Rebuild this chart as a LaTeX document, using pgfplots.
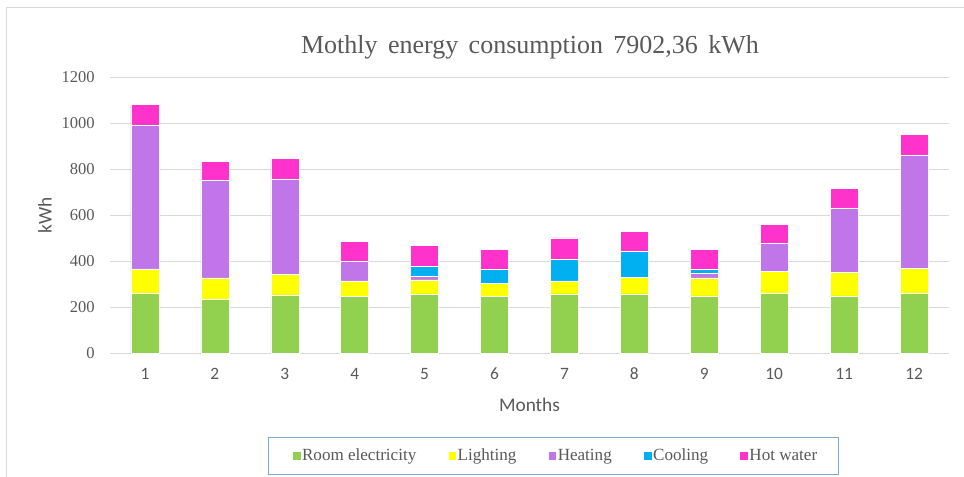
\documentclass[border=0pt]{standalone}
\usepackage{pgfplots}
\pgfplotsset{compat=1.18}
\usepackage{fontspec}
\setmainfont{Liberation Serif}
\newfontfamily\calibri{Carlito}
\newfontfamily\tnr{Liberation Serif}
\definecolor{cRoom}{RGB}{146,208,80}
\definecolor{cLight}{RGB}{255,255,0}
\definecolor{cHeat}{RGB}{192,117,232}
\definecolor{cCool}{RGB}{0,176,240}
\definecolor{cHot}{RGB}{255,51,204}
\definecolor{gridc}{RGB}{217,217,217}
\definecolor{txt}{RGB}{89,89,89}
\definecolor{legb}{RGB}{120,170,220}
\begin{document}
\begin{tikzpicture}
\useasboundingbox (0,0) rectangle (723pt,357.75pt);
\draw[gridc, line width=1.1pt] (4.9pt,0) -- (4.9pt,352.3pt) -- (723pt,352.3pt);
\begin{axis}[
  at={(82.5pt,92.78pt)}, anchor=south west,
  scale only axis, width=629.25pt, height=207pt,
  xmin=0.5, xmax=12.5, ymin=0, ymax=1200,
  ybar stacked, bar width=21pt,
  xtick={1,...,12}, ytick={0,200,...,1200},
  ymajorgrids, major grid style={gridc, line width=0.75pt},
  axis x line*=bottom, axis y line*=left,
  y axis line style={draw=none},
  x axis line style={gridc, line width=0.9pt},
  major tick length=0pt, tick style={draw=none},
  /pgf/number format/assume math mode=true,
  /pgf/number format/1000 sep={},
  xticklabel style={font=\calibri\fontsize{13}{13}\selectfont, text=txt, anchor=center, inner sep=0pt, yshift=-15.5pt},
  yticklabel={\tnr\fontsize{12.4}{12.4}\selectfont\pgfmathprintnumber{\tick}},
  yticklabel style={text=txt, anchor=east, inner sep=0pt, xshift=-11.25pt},
  xlabel={Months},
  xlabel style={font=\calibri\fontsize{14.5}{14.5}\selectfont, text=txt, at={(rel axis cs:0.5,-0.1874)}, anchor=center},
  ylabel={kWh},
  ylabel style={font=\calibri\fontsize{14.5}{14.5}\selectfont, text=txt, at={(rel axis cs:-0.0775,0.5)}, anchor=center},
  title={Mothly\hspace{0.4em}energy\hspace{0.4em}consumption\hspace{0.4em}7902,36\hspace{0.4em}kWh},
  title style={font=\tnr\fontsize{19.5}{21}\selectfont, text=txt, at={(rel axis cs:0.5006,1.0789)}, anchor=center},
  legend columns=5,
  legend style={at={(rel axis cs:0.5284,-0.3721)}, anchor=center, draw=legb, line width=0.75pt,
    font=\tnr\fontsize{12.8}{13}\selectfont, text=txt, inner xsep=15pt, inner ysep=6.5pt,
    nodes={inner xsep=1pt},
    /tikz/every even column/.append style={column sep=19.5pt}},
  legend cell align=left,
  legend image code/.code={\path (-3.5pt,0pt); \fill[#1, draw=none] (0pt,-2.9pt) rectangle (5.8pt,2.9pt);},
]
\addplot[fill=cRoom, draw=white, line width=0.4pt] coordinates {(1,259) (2,235) (3,254) (4,249) (5,258) (6,246) (7,258) (8,258) (9,250) (10,259) (11,250) (12,259)};
\addlegendentry{Room electricity}
\addplot[fill=cLight, draw=white, line width=0.4pt] coordinates {(1,108) (2,93) (3,90) (4,66) (5,61) (6,58) (7,57) (8,73) (9,78) (10,98) (11,102) (12,109)};
\addlegendentry{Lighting}
\addplot[fill=cHeat, draw=white, line width=0.4pt] coordinates {(1,626) (2,426) (3,414) (4,85) (5,14) (6,0) (7,0) (8,0) (9,20) (10,120) (11,280) (12,495)};
\addlegendentry{Heating}
\addplot[fill=cCool, draw=white, line width=0.4pt] coordinates {(1,0) (2,0) (3,0) (4,0) (5,44) (6,61) (7,94) (8,111) (9,17) (10,0) (11,0) (12,0)};
\addlegendentry{Cooling}
\addplot[fill=cHot, draw=white, line width=0.4pt] coordinates {(1,88) (2,81) (3,89) (4,86) (5,93) (6,87) (7,93) (8,89) (9,87) (10,85) (11,86) (12,88)};
\addlegendentry{Hot water}
\end{axis}
\end{tikzpicture}
\end{document}
